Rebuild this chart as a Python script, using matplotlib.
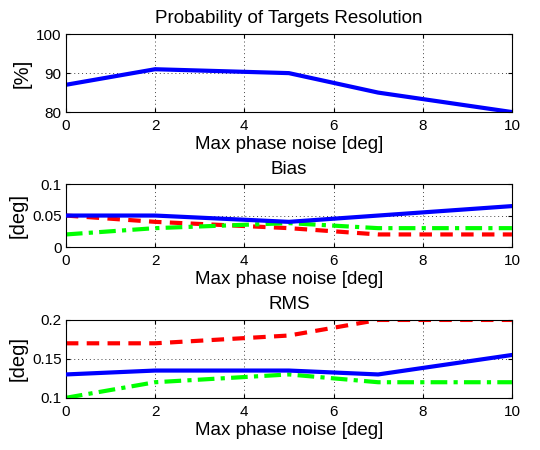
import matplotlib
matplotlib.use("Agg")
import matplotlib.pyplot as plt

plt.rcParams['font.family'] = ['Liberation Sans', 'DejaVu Sans']

x = [0, 2, 5, 7, 10]
prob = [87, 91, 90, 85, 80]
bias_blue = [0.05, 0.05, 0.04, 0.05, 0.065]
bias_red = [0.05, 0.04, 0.03, 0.02, 0.02]
bias_green = [0.02, 0.03, 0.038, 0.03, 0.03]
rms_blue = [0.13, 0.135, 0.135, 0.13, 0.155]
rms_red = [0.17, 0.17, 0.18, 0.2, 0.2]
rms_green = [0.10, 0.12, 0.13, 0.12, 0.12]

xlabel = 'Max phase noise [deg]'
fig = plt.figure(figsize=(5.4, 4.5), dpi=100)
L, W = 0.122, 0.826
ax1 = fig.add_axes([L, 0.751, W, 0.173])
ax2 = fig.add_axes([L, 0.451, W, 0.140])
ax3 = fig.add_axes([L, 0.116, W, 0.173])

FS = 13.5
lw = 3
ax1.plot(x, prob, color='#0000ff', lw=lw)
ax1.set_ylim(80, 100); ax1.set_yticks([80, 90, 100])
ax1.set_title('Probability of Targets Resolution', fontsize=FS, pad=8)
ax1.set_ylabel('[%]', fontsize=14.5, labelpad=3)

ax2.plot(x, bias_blue, color='#0000ff', lw=lw, zorder=4)
ax2.plot(x, bias_red, color='#ff0000', lw=lw, ls=(0, (3, 2)))
ax2.plot(x, bias_green, color='#00ff00', lw=lw, ls=(0, (4, 1.5, 1, 1.5)))
ax2.set_ylim(0, 0.1); ax2.set_yticks([0, 0.05, 0.1]); ax2.set_yticklabels(['0', '0.05', '0.1'])
ax2.set_title('Bias', fontsize=FS, pad=7)
ax2.set_ylabel('[deg]', fontsize=14.5, labelpad=3)

ax3.plot(x, rms_blue, color='#0000ff', lw=lw, zorder=4)
ax3.plot(x, rms_red, color='#ff0000', lw=lw, ls=(0, (3, 2)))
ax3.plot(x, rms_green, color='#00ff00', lw=lw, ls=(0, (4, 1.5, 1, 1.5)))
ax3.set_ylim(0.1, 0.2); ax3.set_yticks([0.1, 0.15, 0.2]); ax3.set_yticklabels(['0.1', '0.15', '0.2'])
ax3.set_title('RMS', fontsize=FS, pad=8)
ax3.set_ylabel('[deg]', fontsize=14.5, labelpad=3)

for ax in (ax1, ax2, ax3):
    ax.set_xlim(0, 10)
    ax.set_xticks([0, 2, 4, 6, 8, 10])
    ax.set_xlabel(xlabel, fontsize=FS, labelpad=2)
    ax.grid(True, color='#444444', ls=(0, (1, 3)), lw=0.7)
    ax.tick_params(direction='in', top=True, right=True, labelsize=11, length=3)
    ax.tick_params(axis='x', pad=5)
    ax.tick_params(axis='y', pad=3)
    for s in ax.spines.values():
        s.set_linewidth(0.8)

fig.savefig('out.png', dpi=100)
